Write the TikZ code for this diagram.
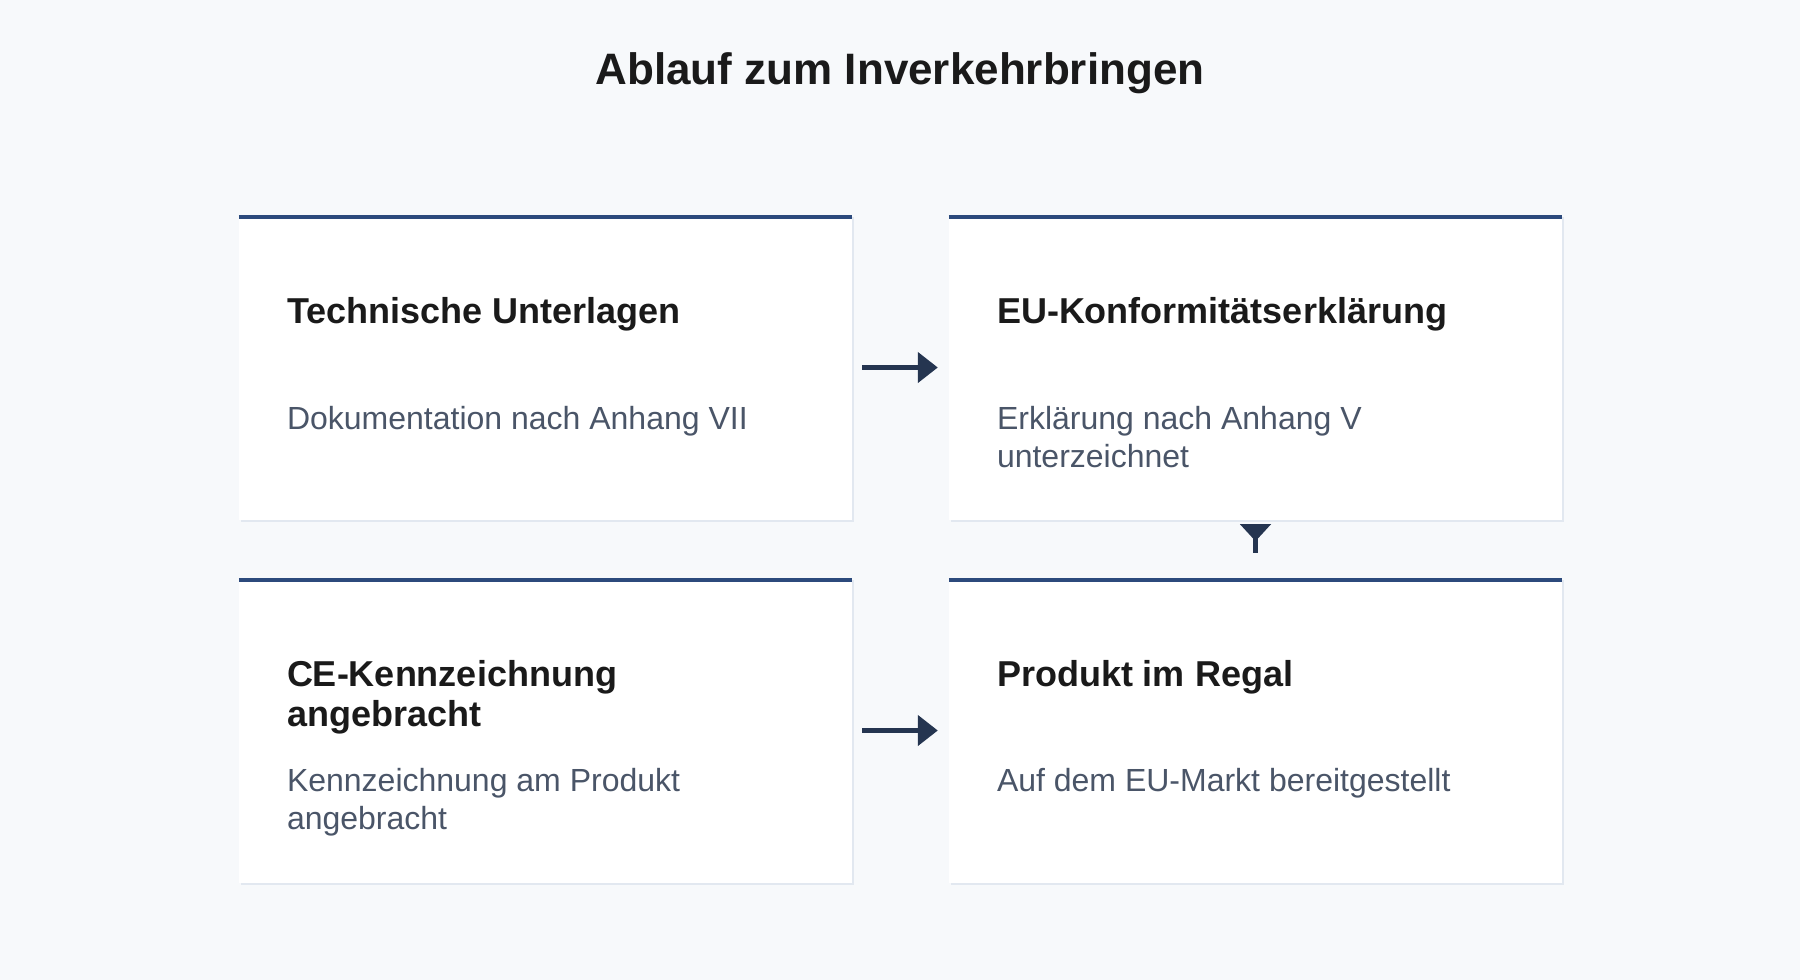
\documentclass[tikz,border=0pt]{standalone}
\usepackage{fontspec}
\setmainfont{Liberation Sans}
\usetikzlibrary{arrows.meta,shadows}

\definecolor{bgc}{HTML}{F7F9FB}
\definecolor{barc}{HTML}{2C4A7C}
\definecolor{shadowc}{HTML}{E2E8F0}
\definecolor{headc}{HTML}{1A1A1A}
\definecolor{bodyc}{HTML}{4A5568}
\definecolor{arrowc}{HTML}{253550}

\tikzset{
	card/.style={rectangle, fill=white, inner sep=0pt, minimum width=613pt, minimum height=305pt,
		drop shadow={shadow xshift=2pt, shadow yshift=-2pt, fill=shadowc, opacity=1}},
	bar/.style={draw=barc, line width=4.5pt},
	head/.style={anchor=base west, align=left, inner sep=0pt, text=headc,
		font=\fontsize{36}{40}\selectfont\bfseries},
	body/.style={anchor=base west, align=left, inner sep=0pt, text=bodyc,
		font=\fontsize{32}{38}\selectfont},
	flow/.style={draw=arrowc, line width=4.5pt}
}

\begin{document}
\begin{tikzpicture}[x=1pt,y=-1pt]

	\fill[bgc] (0,0) rectangle (1800,980);
	\useasboundingbox (0,0) rectangle (1800,980);

	\node[anchor=base, text=headc, font=\fontsize{44}{50}\selectfont\bfseries] (title) at (900,84) {Ablauf zum Inverkehrbringen};

	% erste Reihe (base west = letzte Zeile)
	\node[card] (tech) at (545.5,367.5) {};
	\draw[bar] ([yshift=-2.25pt]tech.north west) -- ([yshift=-2.25pt]tech.north east);
	\node[head] (techh) at ([shift={(48,109)}]tech.north west) {Technische Unterlagen};
	\node[body] (techb) at ([shift={(48,215)}]tech.north west) {Dokumentation nach Anhang VII};

	\node[card] (eu) at (1255.5,367.5) {};
	\draw[bar] ([yshift=-2.25pt]eu.north west) -- ([yshift=-2.25pt]eu.north east);
	\node[head] (euh) at ([shift={(48,109)}]eu.north west) {EU-Konformitätserklärung};
	\node[body] (eub) at ([shift={(48,253)}]eu.north west) {Erklärung nach Anhang V\\unterzeichnet};

	% zweite Reihe
	\node[card] (ce) at (545.5,730.5) {};
	\draw[bar] ([yshift=-2.25pt]ce.north west) -- ([yshift=-2.25pt]ce.north east);
	\node[head] (ceh) at ([shift={(48,149)}]ce.north west) {CE-Kennzeichnung\\angebracht};
	\node[body] (ceb) at ([shift={(48,252)}]ce.north west) {Kennzeichnung am Produkt\\angebracht};

	\node[card] (regal) at (1255.5,730.5) {};
	\draw[bar] ([yshift=-2.25pt]regal.north west) -- ([yshift=-2.25pt]regal.north east);
	\node[head] (regalh) at ([shift={(48,109)}]regal.north west) {Produkt im Regal};
	\node[body] (regalb) at ([shift={(48,214)}]regal.north west) {Auf dem EU-Markt bereitgestellt};

	% Pfeile
	\draw[flow, -{Triangle[length=20pt,width=30pt]}, shorten <=10pt, shorten >=11pt] (tech.east) -- (eu.west);
	\draw[flow, -{Triangle[length=20pt,width=30pt]}, shorten <=10pt, shorten >=11pt] (ce.east) -- (regal.west);
	\draw[flow, {Triangle[reversed,length=17pt,width=30pt]}-, shorten <=4pt, shorten >=25pt] (eu.south) -- (regal.north);

\end{tikzpicture}
\end{document}
